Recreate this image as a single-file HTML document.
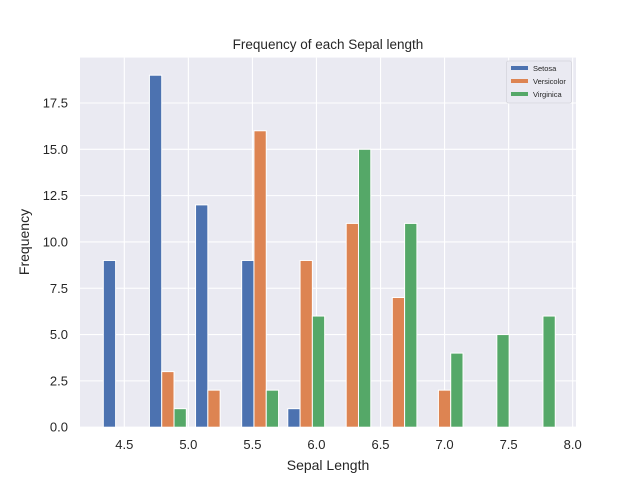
<!DOCTYPE html>
<html><head><meta charset="utf-8"><style>
body{margin:0;background:#fff;}
svg{font-family:"Liberation Sans","DejaVu Sans",sans-serif;}
</style></head><body>
<svg id="c" width="640" height="480" xmlns="http://www.w3.org/2000/svg">
<rect x="0" y="0" width="640" height="480" fill="#fff"/>
<rect x="80" y="57.6" width="496" height="369.6" fill="#eaeaf2"/>
<g id="grid"></g>
<g id="bars"></g>
<g id="ticks"></g>
<text x="328" y="49" text-anchor="middle" font-size="13.5" fill="#262626">Frequency of each Sepal length</text>
<text x="328" y="470" text-anchor="middle" font-size="14" fill="#262626">Sepal Length</text>
<text transform="translate(29,242) rotate(-90)" text-anchor="middle" font-size="14" fill="#262626">Frequency</text>
<g>
<rect x="506.5" y="61" width="65" height="42" rx="2" fill="#eaeaf2" stroke="#d5d5dc" stroke-width="0.8"/>
<rect x="511" y="66" width="17" height="4" fill="#4c72b0"/>
<text x="533" y="71" font-size="7.5" fill="#262626">Setosa</text>
<rect x="511" y="79" width="17" height="4" fill="#dd8452"/>
<text x="533" y="84" font-size="7.5" fill="#262626">Versicolor</text>
<rect x="511" y="92" width="17" height="4" fill="#55a868"/>
<text x="533" y="97" font-size="7.5" fill="#262626">Virginica</text>
</g>
</svg>
<script>
const binStart = 4.3;
const binWidth = 0.36;
const setosa = [9,19,12,9,1,0,0,0,0,0];
const versicolor = [0,3,2,16,9,11,7,2,0,0];
const virginica = [0,1,0,2,6,15,11,4,5,6];
const xTicks = [4.5,5.0,5.5,6.0,6.5,7.0,7.5,8.0];
const yTicks = [0,2.5,5,7.5,10,12.5,15,17.5];
const NS="http://www.w3.org/2000/svg";
const X0=80,X1=576,Y0=427.2,Y1=57.6;
const xmin=4.154,xmax=8.026,ymax=19.95;
const xs=v=>X0+(v-xmin)/(xmax-xmin)*(X1-X0);
const ys=v=>Y0-v/ymax*(Y0-Y1);
function mk(t,a,p){const e=document.createElementNS(NS,t);for(const k in a)e.setAttribute(k,a[k]);p.appendChild(e);return e;}
const grid=document.getElementById('grid'),bars=document.getElementById('bars'),ticks=document.getElementById('ticks');
xTicks.forEach(v=>{
 const l=mk('line',{x1:xs(v),x2:xs(v),y1:Y1,y2:Y0,stroke:'#fff','stroke-width':1.1},grid);
 
 
 const t=mk('text',{x:xs(v),y:Y0+22,'text-anchor':'middle','font-size':13,fill:'#262626'},ticks);
 t.textContent=v.toFixed(1);
 
 
});
yTicks.forEach(v=>{
 const l=mk('line',{x1:X0,x2:X1,y1:ys(v),y2:ys(v),stroke:'#fff','stroke-width':1.1},grid);
 
 
 const t=mk('text',{x:X0-12,y:ys(v)+4.5,'text-anchor':'end','font-size':13,fill:'#262626'},ticks);
 t.textContent=v.toFixed(1);
 
 
});
const series=[[setosa,'#4c72b0','setosa'],[versicolor,'#dd8452','versicolor'],[virginica,'#55a868','virginica']];
const bw=binWidth*0.8/3;
series.forEach((s,si)=>{
 s[0].forEach((v,i)=>{
  if(!v) return;
  const x=binStart+i*binWidth+binWidth*0.1+si*bw;
  const r=mk('rect',{x:xs(x),y:ys(v),width:xs(x+bw)-xs(x),height:Y0-ys(v),fill:s[1],stroke:'#fff','stroke-width':1},bars);
  
  
 });
});
</script>
</body></html>
